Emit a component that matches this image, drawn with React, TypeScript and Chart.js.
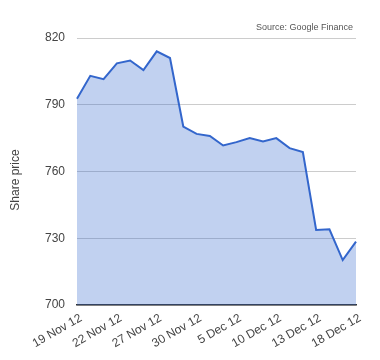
import React, { useEffect, useRef } from "react";
import { Chart, registerables } from "chart.js";

Chart.register(...registerables);

const dates = [
  "19 Nov 12", "20 Nov 12", "21 Nov 12", "22 Nov 12", "23 Nov 12", "26 Nov 12",
  "27 Nov 12", "28 Nov 12", "29 Nov 12", "30 Nov 12", "3 Dec 12", "4 Dec 12",
  "5 Dec 12", "6 Dec 12", "7 Dec 12", "10 Dec 12", "11 Dec 12", "12 Dec 12",
  "13 Dec 12", "14 Dec 12", "17 Dec 12", "18 Dec 12",
];

const prices = [
  792.7, 803.0, 801.5, 808.6, 809.9, 805.6, 814.0, 811.0, 780.2, 776.9, 776.0,
  771.7, 773.2, 775.0, 773.5, 775.0, 770.5, 768.7, 733.7, 734.0, 720.2, 728.5,
];

const shownTicks = [
  "19 Nov 12", "22 Nov 12", "27 Nov 12", "30 Nov 12", "5 Dec 12", "10 Dec 12",
  "13 Dec 12", "18 Dec 12",
];

const yTicks = [700, 730, 760, 790, 820];

const sourceText = "Source: Google Finance";
const yTitle = "Share price";

const FONT = "Arial, 'Liberation Sans', sans-serif";

export default function App() {
  const ref = useRef<HTMLCanvasElement | null>(null);

  useEffect(() => {
    const canvas = ref.current;
    if (!canvas) return;
    const textPlugin = {
      id: "extraText",
      afterDraw(chart: any) {
        const ctx = chart.ctx;
        const area = chart.chartArea;
        ctx.save();
        ctx.fillStyle = "#555";
        ctx.font = `9px ${FONT}`;
        ctx.textAlign = "right";
        ctx.textBaseline = "middle";
        ctx.fillText(sourceText, area.right - 3, 28);
        ctx.fillStyle = "#444";
        ctx.font = `12px ${FONT}`;
        ctx.translate(16, 180);
        ctx.rotate(-Math.PI / 2);
        ctx.textAlign = "center";
        ctx.fillText(yTitle, 0, 0);
        ctx.restore();
      },
    };
    const chart = new Chart(canvas, {
      type: "line",
      data: {
        labels: dates,
        datasets: [
          {
            data: prices,
            borderColor: "#3366cc",
            borderWidth: 2,
            backgroundColor: "rgba(51,102,204,0.3)",
            fill: "start",
            pointRadius: 0,
            tension: 0,
          },
        ],
      },
      options: {
        responsive: false,
        animation: false,
        layout: { padding: { top: 38, right: 24, left: 0, bottom: 0 } },
        plugins: {
          legend: { display: false },
          tooltip: { enabled: false },
        },
        scales: {
          x: {
            grid: { display: false, drawTicks: false },
            border: { display: true, color: "#333", width: 1.5 },
            afterFit: (s: any) => {
              s.height = 55;
            },
            ticks: {
              autoSkip: false,
              minRotation: 30,
              maxRotation: 30,
              padding: 6,
              labelOffset: 4,
              color: "#444",
              font: { family: FONT, size: 12 },
              callback: (_v: any, i: number) =>
                shownTicks.includes(dates[i]) ? dates[i] : "",
            },
          },
          y: {
            min: yTicks[0],
            max: yTicks[yTicks.length - 1],
            afterFit: (s: any) => {
              s.width = 77;
            },
            afterBuildTicks: (s: any) => {
              s.ticks = yTicks.map((v) => ({ value: v }));
            },
            grid: { color: "#ccc", drawTicks: false },
            border: { display: false },
            ticks: {
              padding: 12,
              color: "#444",
              font: { family: FONT, size: 12 },
            },
          },
        },
      },
      plugins: [textPlugin],
    });
    return () => chart.destroy();
  }, []);

  return (
    <div style={{ position: "absolute", left: 0, top: 0, width: 380, height: 360, background: "#fff" }}>
      <canvas ref={ref} width={380} height={360} />
    </div>
  );
}
